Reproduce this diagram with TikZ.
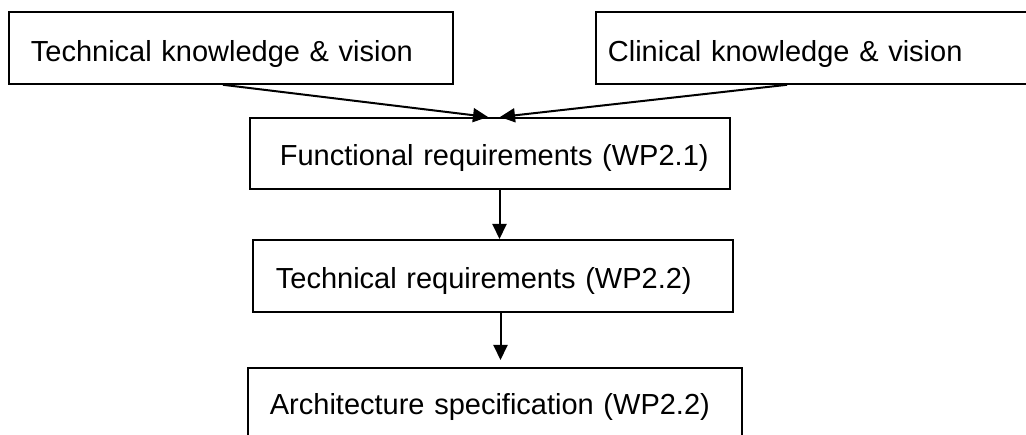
\documentclass[tikz,border=0pt]{standalone}
\usepackage{fontspec}
\setmainfont{Liberation Sans}
\usetikzlibrary{arrows.meta}

\begin{document}
\begin{tikzpicture}[x=1pt,y=-1pt]
        \tikzset{box/.style={draw,line width=1.8pt,anchor=north west,align=left,
                inner ysep=0pt,font=\fontsize{29}{32}\selectfont},
            link/.style={draw,line width=2pt,-{Triangle[length=15pt,width=14pt]}}}
        \useasboundingbox (0,0) rectangle (1026,435);
        \clip (0,0) rectangle (1026,435);
        \node[box,inner xsep=22pt,text width=400pt,text height=50pt,text depth=22pt]
            (techvision) at (8,11) {\mbox{Technical knowledge \& vision}};
        \node[box,inner xsep=12pt,text width=426pt,text height=50pt,text depth=22pt]
            (clinvision) at (595,11) {\mbox{Clinical knowledge \& vision}};
        \node[box,inner xsep=30pt,text width=420pt,text height=48pt,text depth=23pt]
            (funcreq) at (249,117) {\mbox{Functional requirements (WP2.1)}};
        \node[box,inner xsep=23pt,text width=434pt,text height=49pt,text depth=23pt]
            (techreq) at (252,239) {\mbox{Technical requirements (WP2.2)}};
        \node[box,inner xsep=22pt,text width=450pt,text height=47pt,text depth=43pt]
            (archspec) at (247,367) {\mbox{Architecture specification (WP2.2)}};
        \draw[link] ([xshift=215pt]techvision.south west) -- ([xshift=239pt]funcreq.north west);
        \draw[link] ([xshift=192pt]clinvision.south west) -- ([xshift=251pt]funcreq.north west);
        \draw[link] ([xshift=250.5pt]funcreq.south west) -- ([xshift=247.5pt]techreq.north west);
        \draw[link,shorten >=7pt] ([xshift=248.5pt]techreq.south west) -- ([xshift=253.5pt]archspec.north west);
    \end{tikzpicture}
\end{document}
